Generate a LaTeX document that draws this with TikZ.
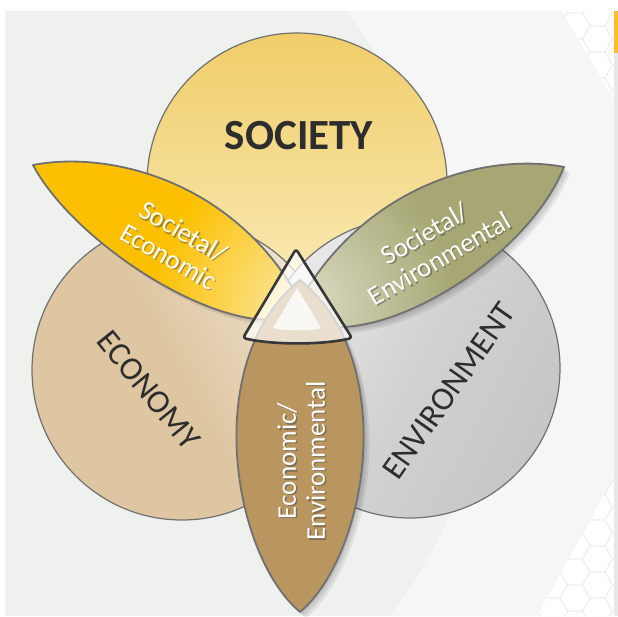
\documentclass[tikz,border=0pt]{standalone}
\usepackage{fontspec}
\setmainfont{Carlito}
\definecolor{bgc}{RGB}{239,241,239}
\definecolor{bgl}{RGB}{245,246,245}
\definecolor{socC}{RGB}{240,205,105}
\definecolor{socL}{RGB}{251,238,192}
\definecolor{ecoC}{RGB}{222,198,162}
\definecolor{ecoL}{RGB}{240,228,210}
\definecolor{envC}{RGB}{210,210,210}
\definecolor{envL}{RGB}{234,234,234}
\definecolor{envD}{RGB}{198,198,198}
\definecolor{seC}{RGB}{252,192,0}
\definecolor{seL}{RGB}{251,232,165}
\definecolor{svC}{RGB}{166,167,116}
\definecolor{svL}{RGB}{222,222,200}
\definecolor{evC}{RGB}{185,150,95}
\definecolor{lineC}{RGB}{112,112,112}
\definecolor{txtC}{RGB}{45,45,45}
\definecolor{triC}{RGB}{55,55,55}
\definecolor{orgC}{RGB}{250,190,40}
\newcommand\leafSE[1]{\path[#1] (33,165) .. controls (110,150) and (240,181) .. (305,310) .. controls (245,352) and (78,250) .. cycle;}
\newcommand\leafSV[1]{\path[#1] (564,167) .. controls (487,152) and (359,184) .. (292,315) .. controls (360,362) and (525,265) .. cycle;}
\newcommand\leafEV[1]{\path[#1] (300,612) .. controls (232,555) and (200,360) .. (300,280) .. controls (400,360) and (368,555) .. cycle;}
\newcommand\triPath[1]{\path[#1] (296,249) -- (352,338) .. controls (322,345) and (273,345) .. (243,338) -- cycle;}
\begin{document}
\begin{tikzpicture}[x=1pt,y=-1pt,
  circ/.style={draw=lineC, line width=1.2pt},
  leafline/.style={draw=lineC, line width=1.8pt, line join=round},
  bigtxt/.style={text=txtC, inner sep=0pt, font=\fontsize{33}{33}\selectfont},
  leaftxt/.style={text=white, inner sep=0pt, align=center, font=\fontsize{27}{29}\selectfont},
  leafshd/.style={text=black!75, opacity=0.45, inner sep=0pt, align=center, font=\fontsize{27}{29}\selectfont},
  hexline/.style={draw=black!7, line width=0.8pt}]
\useasboundingbox (0,0) rectangle (618,616);
% background
\fill[white] (0,0) rectangle (618,616);
\fill[bgc] (5,11) rectangle (614,616);
\fill[bgl] (347,11) .. controls (520,260) and (520,440) .. (390,616) -- (614,616) -- (614,11) -- cycle;
\begin{scope}
  \clip (562,11) -- (614,11) -- (614,100) -- cycle (614,477) -- (614,616) -- (537,616) -- cycle;
  \fill[white] (500,0) rectangle (618,616);
  \foreach \i in {0,...,5}{
    \foreach \j in {0,...,24}{
      \pgfmathsetmacro\cx{530+22.5*\i}
      \pgfmathsetmacro\cy{26*\j+13*mod(\i,2)}
      \draw[hexline] (\cx,\cy) +(15,0) -- +(7.5,13) -- +(-7.5,13) -- +(-15,0) -- +(-7.5,-13) -- +(7.5,-13) -- cycle;
    }
  }
\end{scope}
\fill[black!9] (614,11) rectangle (618,616);
\fill[orgC] (614,11) rectangle (618,53);
% circles
\begin{scope}
  \clip (297,183) circle (150);
  \shade[top color=socC, bottom color=socL] (147,33) rectangle (447,333);
\end{scope}
\draw[circ] (297,183) circle (150);
\begin{scope}
  \clip (182,370) circle (150);
  \shade[top color=ecoL, bottom color=ecoC, middle color=ecoC, shading angle=-62] (32,220) rectangle (332,520);
\end{scope}
\draw[circ] (182,370) circle (150);
\begin{scope}
  \clip (410,368) circle (150);
  \shade[top color=envL, bottom color=envD, middle color=envC, shading angle=63] (260,218) rectangle (560,518);
\end{scope}
\draw[circ] (410,368) circle (150);
% circle labels
\node[text=txtC, inner sep=0pt, font=\fontsize{43}{43}\selectfont\bfseries] (soc) at (299,136) {SOCIETY};
\node[bigtxt, rotate=-51] (eco) at (149,390) {ECONOMY};
\node[bigtxt, rotate=55] (env) at (449,391) {ENVIRONMENT};
% leaf shadows
\foreach \s in {2,4,6}{
  \begin{scope}[shift={(\s,\s)}]
    \leafSE{fill=black, opacity=0.06}
    \leafSV{fill=black, opacity=0.07}
    \leafEV{fill=black, opacity=0.07}
  \end{scope}
}
% leaves
\begin{scope}
  \leafSE{clip}
  \fill[seC] (20,140) rectangle (320,360);
  \shade[inner color=seL, outer color=seC] (300,305) circle (150);
\end{scope}
\leafSE{leafline}
\begin{scope}
  \leafSV{clip}
  \fill[svC] (280,140) rectangle (580,370);
  \shade[inner color=svL, outer color=svC] (296,305) circle (160);
\end{scope}
\leafSV{leafline}
\leafEV{fill=evC}
\leafEV{leafline}
% leaf labels with soft text shadow
\node[leafshd, rotate=-30] (seS) at (177.5,245.5) {Societal/\\Economic};
\node[leaftxt, rotate=-30] (se) at (176,244) {Societal/\\Economic};
\node[leafshd, rotate=30] (svS) at (433.5,247.5) {Societal/\\Environmental};
\node[leaftxt, rotate=30] (sv) at (432,246) {Societal/\\Environmental};
\node[leafshd, rotate=90] (evS) at (302.5,462.5) {Economic/\\Environmental};
\node[leaftxt, rotate=90] (ev) at (301,461) {Economic/\\Environmental};
% centre triangle
\triPath{fill=white, opacity=0.7, rounded corners=3pt}
\path[fill=white, opacity=0.8] (297,288) -- (321,328) .. controls (310,331) and (284,331) .. (273,328) -- cycle;
\triPath{draw=triC, line width=2.6pt, line join=round, rounded corners=3pt}
\end{tikzpicture}
\end{document}
